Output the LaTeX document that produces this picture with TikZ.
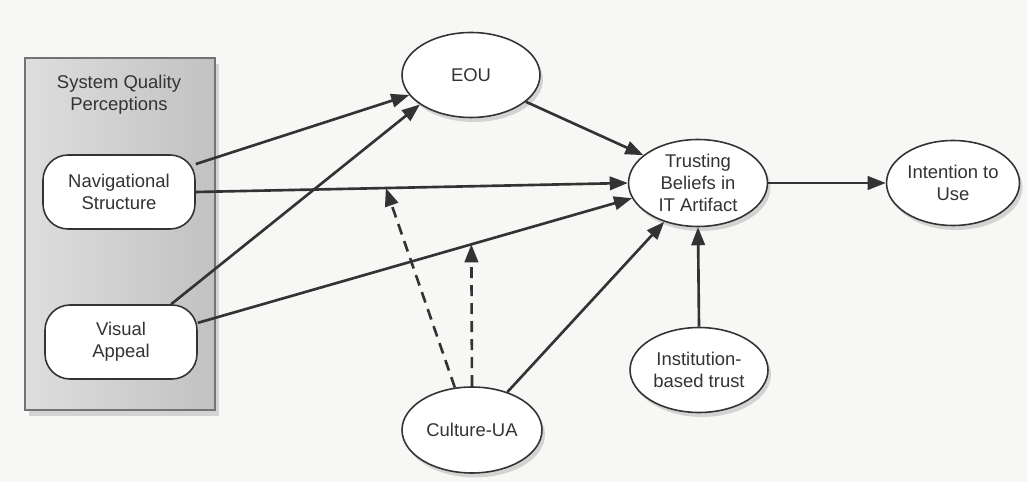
\documentclass[tikz,border=0pt]{standalone}
\usepackage{fontspec}
\setmainfont{Liberation Sans}
\usepackage{tikz}
\usetikzlibrary{arrows.meta,shapes.geometric,shadows}
\definecolor{ink}{HTML}{333333}
\definecolor{paper}{HTML}{F7F7F5}
\tikzset{
  oval/.style={ellipse,draw=ink,fill=white,line width=0.9pt,inner sep=0pt,align=center,
               minimum width=2.76cm,minimum height=1.7cm,text=ink,
               drop shadow={opacity=0.3,shadow xshift=0.6mm,shadow yshift=-0.9mm}},
  fact/.style={draw=ink,fill=white,rounded corners=0.5cm,line width=0.9pt,align=center,
               minimum width=3.04cm,minimum height=1.48cm,text=ink},
  grp/.style={draw=black!55,left color=black!13,right color=black!24,line width=0.9pt,
              minimum width=3.8cm,minimum height=7.04cm,
              drop shadow={opacity=0.3,shadow xshift=0.8mm,shadow yshift=-1.2mm}},
  ar/.style={-{Triangle[length=3.6mm,width=2.7mm]},line width=1.5pt,draw=ink},
  dar/.style={ar,dash pattern=on 2.2mm off 1.4mm}
}
\begin{document}
\begin{tikzpicture}[x=0.02cm,y=-0.02cm,font=\fontsize{10.5}{12.5}\selectfont]
  \fill[paper] (0,0) rectangle (1027,482);
  \useasboundingbox (0,0) rectangle (1027,482);

  % system quality group
  \node[grp] (sqp) at (120,234) {};
  \node[align=center,text=ink] (sqptitle) at (119,95) {System Quality\\Perceptions};
  \node[fact] (nav) at (119,192) {Navigational\\Structure};
  \node[fact] (vis) at (121,342) {Visual\\Appeal};

  % constructs
  \node[oval] (eou) at (471,75) {EOU};
  \node[oval,minimum width=2.78cm,minimum height=1.74cm] (trust) at (698,183) {Trusting\\Beliefs in\\IT Artifact};
  \node[oval,minimum width=2.66cm] (use) at (953,183) {Intention to\\Use};
  \node[oval] (inst) at (699,370) {Institution-\\based trust};
  \node[oval,minimum width=2.8cm,minimum height=1.72cm] (cua) at (472,430) {Culture-UA};

  \draw[ar] (nav.20) -- (eou.198);
  \draw[ar] (nav.east) -- coordinate[pos=0.44] (m1) (trust.west);
  \draw[ar] (vis.37) -- (eou.210);
  \draw[ar] (vis.14) -- coordinate[pos=0.63] (m2) (trust.193);
  \draw[ar] (eou.334) -- (trust.153);
  \draw[ar] (cua.47) -- (trust.229);
  \draw[ar] (inst.north) -- (trust.south);
  \draw[ar] (trust.east) -- (use.west);
  % moderation (dashed)
  \draw[dar] (cua.112) -- (m1);
  \draw[dar] (cua.north) -- (m2);
\end{tikzpicture}
\end{document}
